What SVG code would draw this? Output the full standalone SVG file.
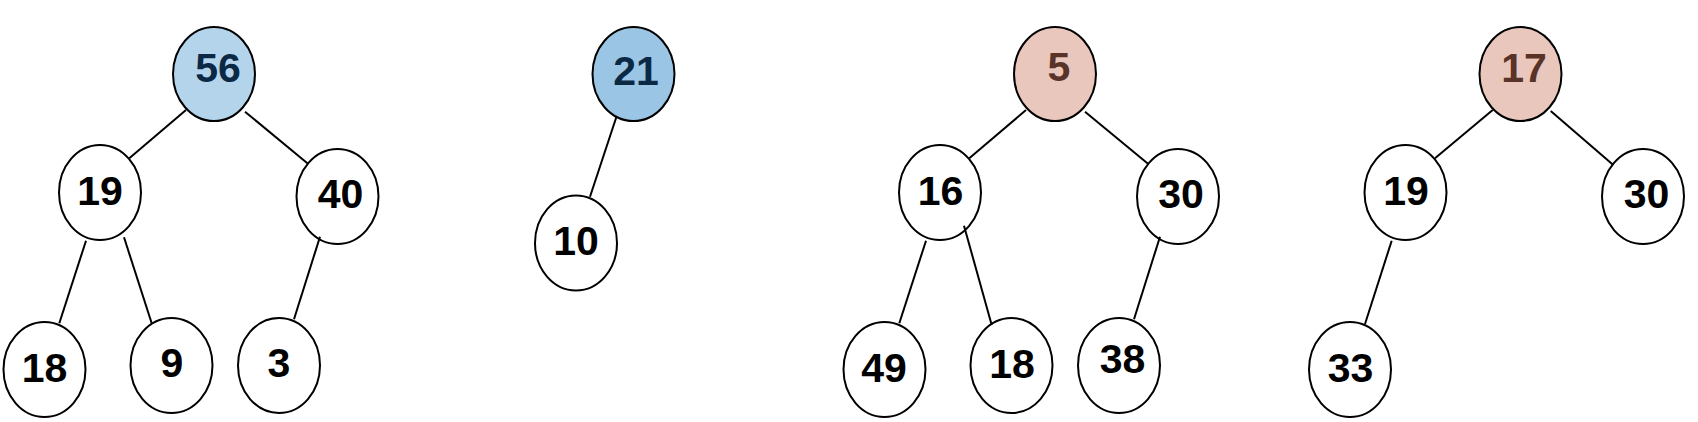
<svg xmlns="http://www.w3.org/2000/svg" width="1698" height="422" viewBox="0 0 1698 422">
<style>
.n{fill:#fff;stroke:#000;stroke-width:2}
.b1{fill:#b4d4eb}
.b2{fill:#9ac5e4}
.p{fill:#e9c7bd}
text{font-family:"Liberation Sans",Arial,sans-serif;font-weight:bold;font-size:41px;text-anchor:middle;fill:#000}
.tb{fill:#0b2945}
.tp{fill:#5a3328}
.e{stroke:#000;stroke-width:2;fill:none}
</style>
<rect width="1698" height="422" fill="#fff"/>
<g id="t1-56"><ellipse class="n b1" cx="214" cy="74" rx="41" ry="47"/><text class="tb" x="218" y="82">56</text></g>
<g id="t1-19"><ellipse class="n" cx="100" cy="192.5" rx="41" ry="47.5"/><text x="100" y="205">19</text></g>
<g id="t1-40"><ellipse class="n" cx="337.5" cy="196.5" rx="41" ry="47.5"/><text x="340.5" y="208">40</text></g>
<g id="t1-18"><ellipse class="n" cx="44.5" cy="369.5" rx="41" ry="47.5"/><text x="44.5" y="382">18</text></g>
<g id="t1-9"><ellipse class="n" cx="171.5" cy="365.5" rx="41" ry="47.5"/><text x="172" y="377">9</text></g>
<g id="t1-3"><ellipse class="n" cx="279" cy="365.5" rx="41" ry="47.5"/><text x="279" y="377">3</text></g>

<g id="t2-21"><ellipse class="n b2" cx="633.5" cy="74" rx="41" ry="47"/><text class="tb" x="636" y="85">21</text></g>
<g id="t2-10"><ellipse class="n" cx="576" cy="243" rx="41" ry="47.5"/><text x="576" y="255">10</text></g>

<g id="t3-5"><ellipse class="n p" cx="1055" cy="74" rx="41" ry="47"/><text class="tp" x="1059" y="81">5</text></g>
<g id="t3-16"><ellipse class="n" cx="940" cy="192.5" rx="41" ry="47.5"/><text x="940.5" y="205">16</text></g>
<g id="t3-30"><ellipse class="n" cx="1178" cy="196.5" rx="41" ry="47.5"/><text x="1181" y="208">30</text></g>
<g id="t3-49"><ellipse class="n" cx="884.5" cy="369.5" rx="41" ry="47.5"/><text x="884" y="382">49</text></g>
<g id="t3-18"><ellipse class="n" cx="1011.5" cy="365.5" rx="41" ry="47.5"/><text x="1012" y="378">18</text></g>
<g id="t3-38"><ellipse class="n" cx="1119" cy="365.5" rx="41" ry="47.5"/><text x="1122.5" y="373">38</text></g>

<g id="t4-17"><ellipse class="n p" cx="1520.5" cy="74" rx="41" ry="47"/><text class="tp" x="1524" y="82">17</text></g>
<g id="t4-19"><ellipse class="n" cx="1405.5" cy="192.5" rx="41" ry="47.5"/><text x="1406" y="205">19</text></g>
<g id="t4-30"><ellipse class="n" cx="1643" cy="196.5" rx="41" ry="47.5"/><text x="1646.5" y="208">30</text></g>
<g id="t4-33"><ellipse class="n" cx="1350" cy="369.5" rx="41" ry="47.5"/><text x="1350.5" y="382">33</text></g>

<g id="connectors" class="e">
<line x1="186" y1="110" x2="129.3" y2="158.3"/>
<line x1="245" y1="111.7" x2="308.3" y2="164"/>
<line x1="86" y1="240.7" x2="59.3" y2="323.3"/>
<line x1="124" y1="237.3" x2="151.7" y2="323.3"/>
<line x1="320" y1="236.7" x2="294" y2="319.3"/>
<line x1="616.7" y1="116" x2="590" y2="196.7"/>
<line x1="1026" y1="110" x2="969.3" y2="158.3"/>
<line x1="1085" y1="111.7" x2="1148.3" y2="164"/>
<line x1="926" y1="240.7" x2="899.3" y2="323.3"/>
<line x1="964" y1="225.7" x2="991.7" y2="325"/>
<line x1="1160" y1="236.7" x2="1134" y2="319.3"/>
<line x1="1492.7" y1="110" x2="1435" y2="158.3"/>
<line x1="1550.7" y1="111" x2="1613.3" y2="165"/>
<line x1="1391.7" y1="240.7" x2="1365" y2="324"/>
</g>
</svg>
